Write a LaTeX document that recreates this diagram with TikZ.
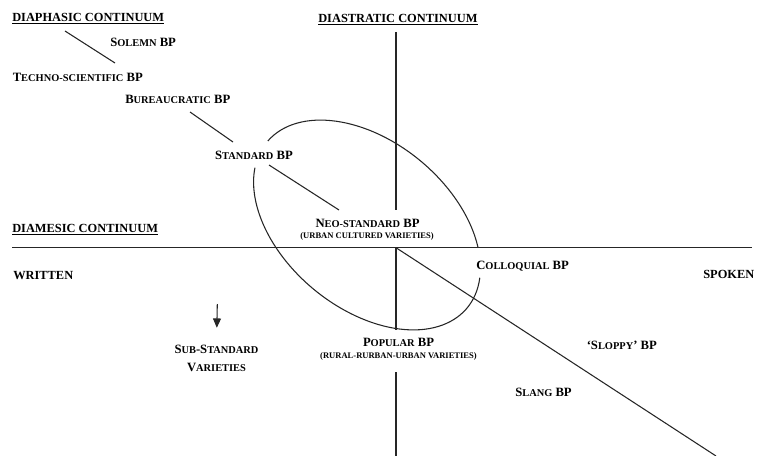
\documentclass[tikz,border=0pt]{standalone}
\usepackage{fontspec}
\setmainfont{Liberation Serif}
\usetikzlibrary{arrows.meta}
\newcommand{\smcap}[1]{{\fontsize{7.8}{9}\selectfont #1}}
\tikzset{
  lbl/.style={inner sep=0.75pt, font=\fontsize{9.5}{11}\selectfont\bfseries},
  hdr/.style={inner sep=0.75pt, font=\fontsize{9.3}{11}\selectfont\bfseries},
  note/.style={inner sep=0.75pt, font=\fontsize{6.4}{7}\selectfont\bfseries},
  axis/.style={line width=0.8pt, draw=black!85},
}
\begin{document}
\begin{tikzpicture}[x=0.75pt,y=0.75pt,yscale=-1,xscale=1]
\useasboundingbox (0,0) rectangle (759,456);

% Coordinates of the axes
\coordinate (origin) at (396,247.7);
\coordinate (vtop) at (396,32);
\coordinate (vtopend) at (396,210);
\coordinate (vmidend) at (396,330);
\coordinate (vlow) at (396,372);
\coordinate (vbottom) at (396,456);
\coordinate (hleft) at (12,247.7);
\coordinate (hright) at (752,247.7);
\coordinate (diagend) at (716,456);

%Straight Lines: diastratic and diamesic axes
\draw [axis] (vtop) -- (vtopend);
\draw [axis] (origin) -- (vmidend);
\draw [axis] (vlow) -- (vbottom);
\draw [axis] (hleft) -- (hright);
%Straight Lines: diagonal
\draw [axis] (origin) -- (diagend);

%Straight Lines: diaphasic continuum
\coordinate (dpa) at (65,31);
\coordinate (dpb) at (115,63);
\coordinate (dpc) at (190,112);
\coordinate (dpd) at (233,142);
\coordinate (dpe) at (269,165);
\coordinate (dpf) at (339,210);
\draw [axis] (dpa) -- (dpb);
\draw [axis] (dpc) -- (dpd);
\draw [axis] (dpe) -- (dpf);

%Shape: Ellipse (two arcs, open at the labels)
\begin{scope}[shift={(367,225)},rotate=39.6]
  \draw [axis] (181:130 and 83.5) arc [start angle=181,end angle=320,x radius=130,y radius=83.5];
  \draw [axis] (338:130 and 83.5) arc [start angle=338,end angle=521,x radius=130,y radius=83.5];
\end{scope}

% Text Node
\draw (11,21.5) node [anchor=base west][hdr] (diaphasic) {\underline{DIAPHASIC CONTINUUM}};
% Text Node
\draw (317,22.5) node [anchor=base west][hdr] (diastratic) {\underline{DIASTRATIC CONTINUUM}};
% Text Node
\draw (11,232.5) node [anchor=base west][hdr] (diamesic) {\underline{DIAMESIC CONTINUUM}};
% Text Node
\draw (12,279) node [anchor=base west][hdr] (written) {WRITTEN};
% Text Node
\draw (702,278) node [anchor=base west][hdr] (spoken) {SPOKEN};

% Text Node
\draw (109,46.7) node [anchor=base west][lbl] (solemn) {S\smcap{OLEMN} BP};
% Text Node
\draw (11.5,81.7) node [anchor=base west][lbl] (techno) {T\smcap{ECHNO-SCIENTIFIC} BP};
% Text Node
\draw (124,104) node [anchor=base west][lbl] (bureau) {B\smcap{UREAUCRATIC} BP};
% Text Node
\draw (254,159) node [anchor=base][lbl] (standard) {S\smcap{TANDARD} BP};
% Text Node
\draw (367.5,227.7) node [anchor=base][lbl] (neostd) {N\smcap{EO-STANDARD} BP};
% Text Node
\draw (367,238.5) node [anchor=base][note] (neostdsub) {(URBAN CULTURED VARIETIES)};
% Text Node
\draw (475,269.3) node [anchor=base west][lbl] (colloq) {C\smcap{OLLOQUIAL} BP};
% Text Node
\draw (585.5,349.3) node [anchor=base west][lbl] (sloppy) {`S\smcap{LOPPY}' BP};
% Text Node
\draw (514,396.7) node [anchor=base west][lbl] (slang) {S\smcap{LANG} BP};
% Text Node
\draw (398.5,346.7) node [anchor=base][lbl] (popular) {P\smcap{OPULAR} BP};
% Text Node
\draw (398.5,358.7) node [anchor=base][note] (popularsub) {(RURAL-RURBAN-URBAN VARIETIES)};
% Text Node
\draw (216.5,343.5) node [anchor=north][lbl,align=center,font=\fontsize{9.5}{13.7}\selectfont\bfseries] (substd) {S\smcap{UB}-S\smcap{TANDARD}\\V\smcap{ARIETIES}};

%Arrow towards the sub-standard varieties
\coordinate (arrtop) at (217.3,304);
\draw [axis,-{Triangle[length=7pt,width=6pt]},shorten >=11.8pt] (arrtop) -- (substd.north);

\end{tikzpicture}
\end{document}
